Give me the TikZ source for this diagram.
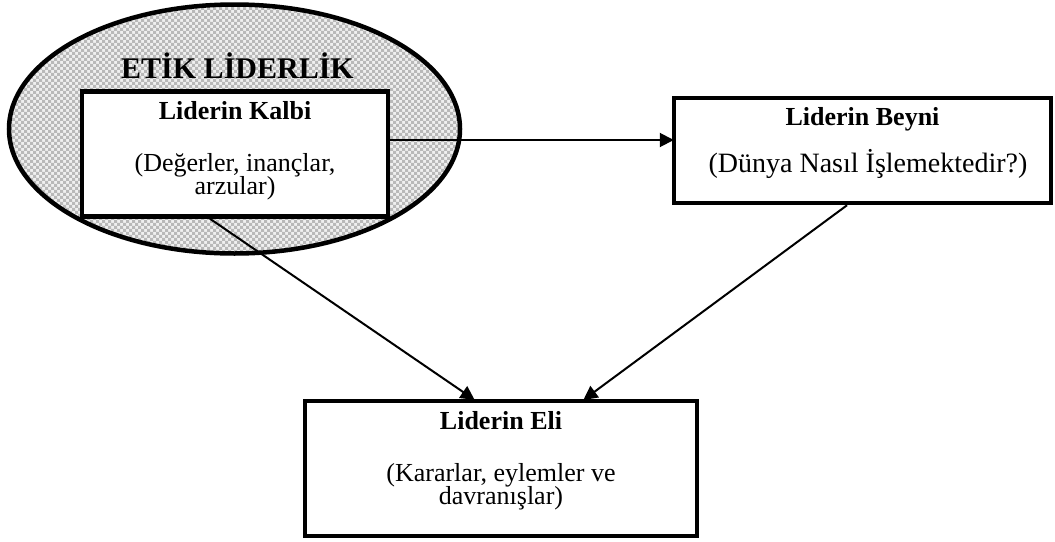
\documentclass[tikz,border=0pt]{standalone}
\usepackage{fontspec}
\setmainfont{Liberation Serif}
\usetikzlibrary{arrows.meta,positioning,shapes.geometric,patterns}

% small grey checks for the ellipse
\pgfdeclarepatternformonly{checks}{\pgfqpoint{-0.1pt}{-0.1pt}}{\pgfqpoint{6.1pt}{6.1pt}}{\pgfqpoint{6pt}{6pt}}{
    \pgfpathrectangle{\pgfpointorigin}{\pgfqpoint{3pt}{3pt}}
    \pgfpathrectangle{\pgfqpoint{3pt}{3pt}}{\pgfqpoint{3pt}{3pt}}
    \pgfusepath{fill}
}
\newcommand\tightlines{\lineskiplimit=-50pt\relax}

\begin{document}
\begin{tikzpicture}[x=1pt, y=-1pt,
        box/.style={rectangle, draw, line width=4.5pt, fill=white, inner sep=0pt},
        ring/.style={ellipse, draw, line width=4.5pt, pattern=checks, pattern color=gray!55,
            preaction={fill=gray!12}, inner sep=0pt},
        title/.style={font=\fontsize{26}{21}\selectfont\bfseries, inner sep=0pt, anchor=base},
        body/.style={font=\fontsize{26}{23}\selectfont\tightlines, align=center,
            inner sep=0pt, anchor=base},
        link/.style={line width=2pt, -{Triangle[length=14pt, width=14pt]}},
    ]
        \useasboundingbox (0,0) rectangle (1055,541);

        % Ethical leadership ellipse
        \node[ring, minimum width=451pt, minimum height=249pt] (ring) at (234.5,129) {};
        \node[title, font=\fontsize{30}{30}\selectfont\bfseries] (etik)
            at ([xshift=3pt, yshift=51pt]ring.center) {ETİK LİDERLİK};

        % Boxes
        \node[box, minimum width=306pt, minimum height=125pt] (kalbi) at (235,154) {};
        \node[box, minimum width=377pt, minimum height=105pt] (beyni) at (862.5,150.5) {};
        \node[box, minimum width=392pt, minimum height=135pt] (eli) at (501,468.5) {};

        % Box texts
        \node[title] (kalbititle) at ([yshift=-30.5pt]kalbi.north) {Liderin Kalbi};
        \node[body] (kalbitext) at ([yshift=-105.5pt]kalbi.north) {(Değerler, inançlar,\\ arzular)};
        \node[title] (beyniitle) at ([yshift=-30pt]beyni.north) {Liderin Beyni};
        \node[body, font=\fontsize{28}{28}\selectfont] (beynitext)
            at ([xshift=5.5pt, yshift=-77pt]beyni.north) {(Dünya Nasıl İşlemektedir?)};
        \node[title] (elititle) at ([yshift=-31pt]eli.north) {Liderin Eli};
        \node[body] (elitext) at ([yshift=-106pt]eli.north) {(Kararlar, eylemler ve\\ davranışlar)};

        % Links
        \draw[link, shorten >=-2pt] ([yshift=14pt]kalbi.east) -- ([yshift=14pt]kalbi.east -| beyni.west);
        \draw[link, shorten >=-2pt] ([xshift=-25pt]kalbi.south) -- ([xshift=-28pt]eli.north);
        \draw[link, shorten >=-2pt] ([xshift=-15.5pt]beyni.south) -- ([xshift=84pt]eli.north);
    \end{tikzpicture}
\end{document}
